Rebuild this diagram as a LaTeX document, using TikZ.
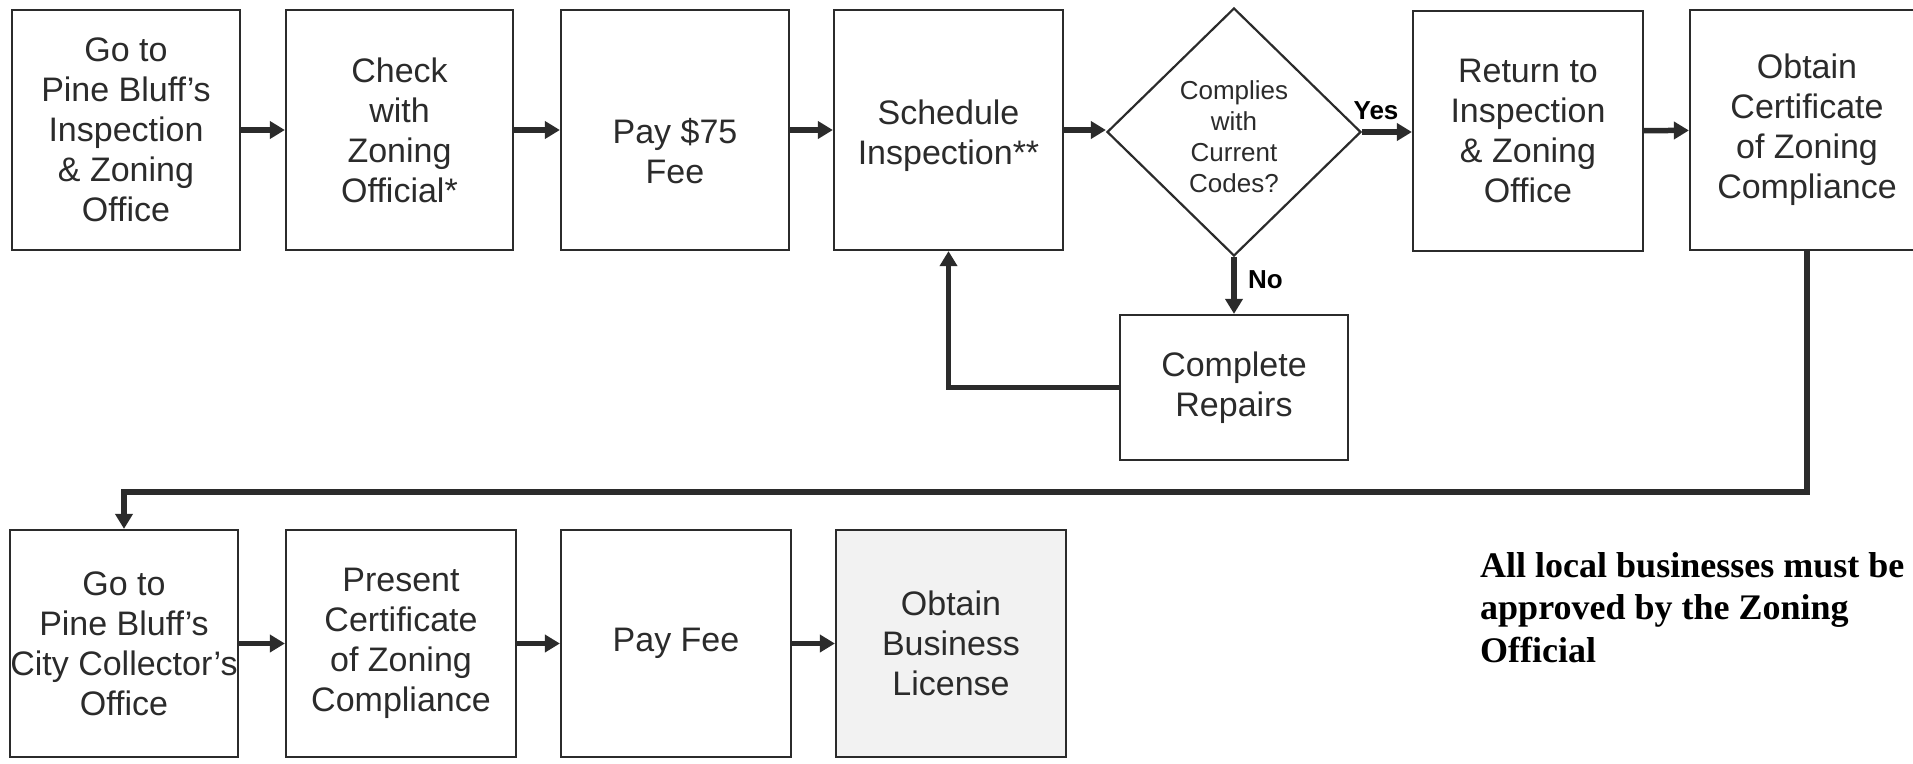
\documentclass[tikz,border=0pt]{standalone}
\usepackage{fontspec}
\setmainfont{Liberation Sans}
\newfontfamily\notefont{Liberation Serif}
\usetikzlibrary{arrows.meta,shapes.geometric}
\definecolor{ink}{HTML}{2B2B2B}
\tikzset{
  box/.style={draw=ink, line width=2.2pt, inner sep=0pt, align=center, text=ink,
    font=\fontsize{34}{40}\selectfont},
  toprow/.style={box, minimum height=240pt},
  botrow/.style={box, minimum height=227pt},
  txt/.style={inner sep=0pt, align=center, text=ink, font=\fontsize{34}{40}\selectfont},
  decision/.style={diamond, aspect=1, draw=ink, line width=2.2pt, inner sep=0pt,
    minimum width=254pt, minimum height=248pt},
  dtxt/.style={inner sep=0pt, align=center, text=ink, font=\fontsize{26}{31}\selectfont},
  arr/.style={draw=ink, line width=5.5pt, -{Triangle[length=15pt,width=17pt]}},
  lbl/.style={inner sep=0pt, text=black, font=\fontsize{26}{30}\selectfont\bfseries},
  note/.style={inner sep=0pt, align=left, text=black, font=\fontsize{36}{42.5}\selectfont\notefont\bfseries}
}
\begin{document}
\begin{tikzpicture}[x=1pt,y=-1pt]
\useasboundingbox (0,0) rectangle (1913,763);
% top row
\node[toprow, minimum width=228pt] (b1) at (126,130) {Go to\\Pine Bluff's\\Inspection\\\& Zoning\\Office};
\node[toprow, minimum width=227pt] (b2) at (399.5,130) {Check\\with\\Zoning\\Official*};
\node[toprow, minimum width=228pt] (b3) at (675,130) {};
\node[txt] (t3) at (675,151) {Pay \$75\\Fee};
\node[toprow, minimum width=229pt] (b4) at (948.5,130) {};
\node[txt] (t4) at (948.5,136) {Schedule\\Inspection**};
\node[decision] (dia) at (1234,132) {};
\node[dtxt] (dt) at (1234,137) {Complies\\with\\Current\\Codes?};
\node[toprow, minimum width=230pt] (b5) at (1528,131) {Return to\\Inspection\\\& Zoning\\Office};
\node[toprow, minimum width=234pt] (b6) at (1807,130) {Obtain\\Certificate\\of Zoning\\Compliance};
\node[box, minimum width=228pt, minimum height=145pt] (rep) at (1234,387.5) {Complete\\Repairs};
% bottom row
\node[botrow, minimum width=228pt] (b7) at (124,643.5) {Go to\\Pine Bluff's\\City Collector's\\Office};
\node[botrow, minimum width=230pt] (b8) at (401,643.5) {Present\\Certificate\\of Zoning\\Compliance};
\node[botrow, minimum width=230pt] (b9) at (676,643.5) {Pay Fee};
\node[botrow, minimum width=230pt, fill=black!5] (b10) at (951,643.5) {Obtain\\Business\\License};
% note
\node[note, anchor=base west] (note) at (1480,662) {All local businesses must be\\approved by the Zoning\\Official};
% connectors
\draw[arr] (b1) -- (b2);
\draw[arr] (b2) -- (b3);
\draw[arr] (b3) -- (b4);
\draw[arr] (b4.east) -- (b4.east -| dia.west);
\draw[arr] (dia.east) -- (dia.east -| b5.west);
\node[lbl, anchor=base] (yes) at (1376,119) {Yes};
\draw[arr] (b5) -- (b6);
\draw[arr] (dia.south) -- (rep.north);
\node[lbl, anchor=base west] (no) at (1248,288) {No};
\draw[arr] (rep.west) -| (b4.south);
\draw[arr] (b6.south) |- ([yshift=37pt]b7.north) -- (b7.north);
\draw[arr] (b7) -- (b8);
\draw[arr] (b8) -- (b9);
\draw[arr] (b9) -- (b10);
\end{tikzpicture}
\end{document}
